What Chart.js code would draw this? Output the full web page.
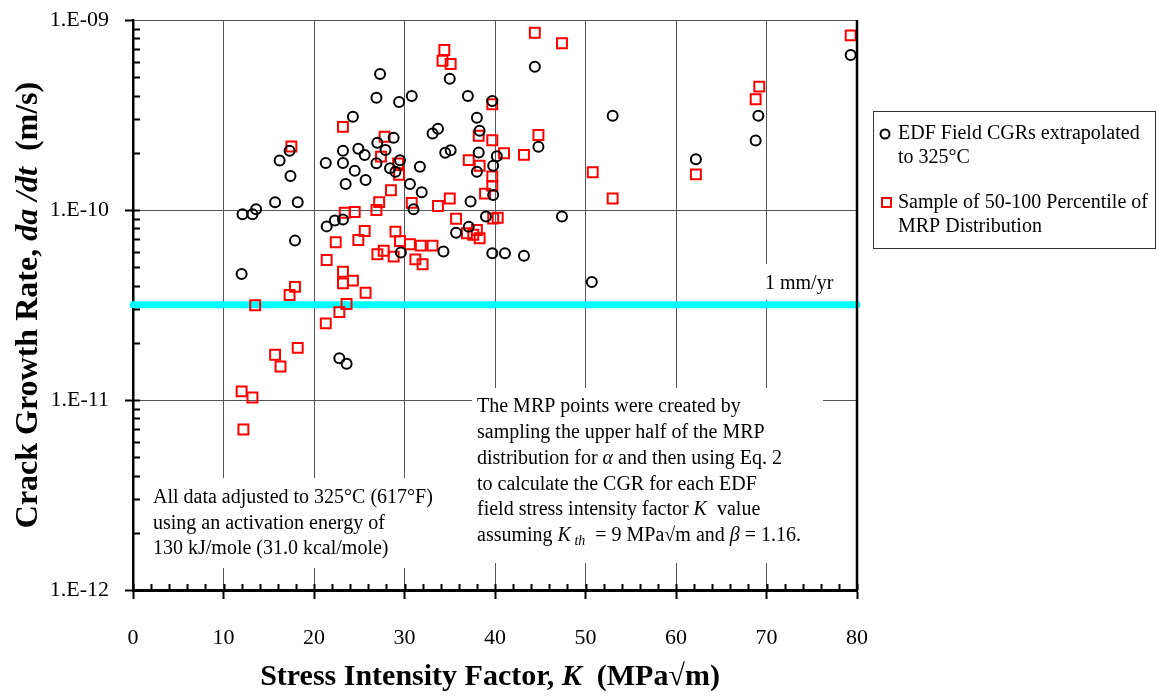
<!DOCTYPE html>
<html>
<head>
<meta charset="utf-8">
<script src="https://cdn.jsdelivr.net/npm/chart.js@4/dist/chart.umd.min.js"></script>
<style>
  html, body { margin: 0; padding: 0; background: #fff; }
  #wrap { width: 1162px; height: 696px; }
</style>
</head>
<body>
<div id="wrap"><canvas id="cgrChart" width="1162" height="696"></canvas></div>
<script>
        // ===============================================
        // 1. Data
        // ===============================================
        // EDF field CGRs extrapolated to 325°C
        const edfK = [27.3, 26.9, 29.4, 24.3, 28.8, 27.0, 23.2, 24.9, 25.6, 17.3,
                      16.2, 21.3, 23.2, 26.9, 27.9, 24.5, 17.4, 25.7, 23.5, 15.7,
                      18.2, 13.6, 13.2, 12.1, 22.3, 21.4, 23.2, 28.4, 29.0, 17.9,
                      12.0, 22.8, 23.6, 29.6, 44.4, 35.0, 30.8, 37.0, 39.7, 38.0,
                      38.3, 33.1, 33.7, 34.5, 35.1, 38.2, 40.2, 44.8, 29.5, 31.7,
                      39.8, 38.0, 30.6, 31.9, 39.8, 37.3, 31.0, 39.0, 47.4, 35.7,
                      37.1, 34.3, 39.7, 41.1, 43.2, 53.0, 62.2, 69.1, 68.8, 79.3,
                      50.7];
        const edfCgr = [5.2e-10, 3.9e-10, 3.7e-10, 3.1e-10, 2.4e-10, 2.26e-10, 2.05e-10, 2.1e-10, 1.95e-10, 2.05e-10,
                        1.82e-10, 1.77e-10, 1.77e-10, 1.76e-10, 2.07e-10, 1.61e-10, 1.51e-10, 1.44e-10, 1.37e-10, 1.1e-10,
                        1.1e-10, 1.01e-10, 9.5e-11, 9.5e-11, 8.8e-11, 8.2e-11, 8.9e-11, 1.66e-10, 1.59e-10, 6.9e-11,
                        4.6e-11, 1.66e-11, 1.55e-11, 5.97e-11, 5.68e-10, 4.91e-10, 3.98e-10, 3.98e-10, 3.75e-10, 3.06e-10,
                        2.61e-10, 2.53e-10, 2.68e-10, 2.0e-10, 2.06e-10, 2.01e-10, 1.92e-10, 2.15e-10, 1.83e-10, 1.69e-10,
                        1.71e-10, 1.59e-10, 1.37e-10, 1.24e-10, 1.2e-10, 1.11e-10, 1.01e-10, 9.25e-11, 9.23e-11, 7.6e-11,
                        8.17e-11, 6.04e-11, 5.92e-11, 5.92e-11, 5.74e-11, 3.13e-10, 1.85e-10, 3.13e-10, 2.32e-10, 6.54e-10,
                        4.18e-11];

        // Sample of 50-100 percentile of MRP distribution
        const mrpK = [23.2, 17.5, 27.8, 27.4, 29.3, 29.4, 28.5, 27.2, 26.9, 23.4,
                      24.5, 22.4, 24.9, 25.6, 29.0, 29.5, 27.0, 27.7, 28.8, 21.4,
                      23.2, 23.2, 24.3, 25.7, 17.9, 17.3, 13.5, 23.6, 22.8, 21.3,
                      18.2, 15.7, 16.3, 12.0, 13.2, 12.2, 44.4, 47.4, 34.4, 34.2,
                      35.1, 39.7, 38.2, 44.8, 39.7, 41.0, 43.2, 37.1, 38.3, 39.7,
                      39.7, 38.9, 35.0, 33.7, 30.8, 35.7, 39.8, 40.3, 36.9, 38.0,
                      37.6, 38.3, 30.6, 31.8, 33.1, 31.2, 32.0, 50.8, 53.0, 62.2,
                      69.2, 68.8, 79.3];
        const mrpCgr = [2.74e-10, 2.16e-10, 2.43e-10, 1.91e-10, 1.76e-10, 1.53e-10, 1.27e-10, 1.1e-10, 1.0e-10, 9.68e-11,
                        9.76e-11, 6.76e-11, 6.95e-11, 7.75e-11, 7.69e-11, 6.87e-11, 5.85e-11, 6.1e-11, 5.68e-11, 5.46e-11,
                        4.73e-11, 4.11e-11, 4.25e-11, 3.67e-11, 3.94e-11, 3.57e-11, 3.15e-11, 3.2e-11, 2.9e-11, 2.53e-11,
                        1.88e-11, 1.73e-11, 1.5e-11, 1.11e-11, 1.03e-11, 7.0e-12, 8.57e-10, 7.54e-10, 6.95e-10, 6.1e-10,
                        5.87e-10, 3.6e-10, 2.46e-10, 2.48e-10, 2.33e-10, 1.99e-10, 1.95e-10, 1.83e-10, 1.71e-10, 1.5e-10,
                        1.34e-10, 1.22e-10, 1.15e-10, 1.05e-10, 1.09e-10, 9.0e-11, 9.02e-11, 9.1e-11, 7.54e-11, 7.85e-11,
                        7.41e-11, 7.1e-11, 6.6e-11, 6.49e-11, 6.49e-11, 5.5e-11, 5.18e-11, 1.58e-10, 1.15e-10, 1.54e-10,
                        4.46e-10, 3.83e-10, 8.3e-10];

        // 1 mm/yr reference line
        const refK = [0, 80];
        const refCgr = [3.17e-11, 3.17e-11];

        // Axis ticks
        const xTickValues = [0, 10, 20, 30, 40, 50, 60, 70, 80];
        const yTickValues = [1e-12, 1e-11, 1e-10, 1e-9];
        const yTickLabels = ['1.E-12', '1.E-11', '1.E-10', '1.E-09'];

        // ===============================================
        // 2. Helpers
        // ===============================================
        const SERIF = "'Liberation Serif', 'Times New Roman', serif";

        // draw a line of text made of pieces with their own fonts
        function drawPieces(c, pieces, x, y, align) {
            let total = 0;
            pieces.forEach(p => { c.font = p.font; total += c.measureText(p.t).width; });
            let cx = align === 'center' ? x - total / 2 : x;
            pieces.forEach(p => {
                c.font = p.font;
                c.fillText(p.t, cx, y + (p.dy || 0));
                cx += c.measureText(p.t).width;
            });
        }

        const note = '20px ' + SERIF;
        const noteI = 'italic 20px ' + SERIF;
        const noteSub = 'italic 14px ' + SERIF;

        // ===============================================
        // 3. Decorations plugin (ticks, notes, legend, titles)
        // ===============================================
        const decorPlugin = {
            id: 'decor',
            beforeDatasetsDraw(chart) {
                const c = chart.ctx;
                c.save();
                c.fillStyle = '#fff';
                c.fillRect(140, 478, 322, 90);
                c.fillRect(472, 388, 351, 175);
                c.fillRect(758, 264, 80, 36);
                c.restore();
            },
            afterDraw(chart) {
                const c = chart.ctx;
                const a = chart.chartArea;
                const xs = chart.scales.x;
                const ys = chart.scales.y;
                c.save();

                // right border
                c.strokeStyle = '#000';
                c.lineWidth = 2.5;
                c.beginPath();
                c.moveTo(a.right, a.top);
                c.lineTo(a.right, a.bottom);
                c.stroke();

                // inward ticks on x axis
                c.lineWidth = 2;
                c.beginPath();
                for (let v = 0; v <= 80; v += 2) {
                    const px = Math.round(xs.getPixelForValue(v)) + 0.5;
                    c.moveTo(px, a.bottom);
                    c.lineTo(px, a.bottom - 6);
                }
                // inward ticks on log y axis
                for (let d = -12; d < -9; d++) {
                    for (let m = 1; m <= 9; m++) {
                        const py = Math.round(ys.getPixelForValue(m * Math.pow(10, d))) + 0.5;
                        c.moveTo(a.left, py);
                        c.lineTo(a.left + 7, py);
                    }
                }
                c.stroke();

                // notes
                c.fillStyle = '#000';
                c.textBaseline = 'middle';
                c.textAlign = 'left';
                drawPieces(c, [{ t: '1 mm/yr', font: note }], 765, 284);

                const leftNote = ['All data adjusted to 325°C (617°F)',
                                  'using an activation energy of',
                                  '130 kJ/mole (31.0 kcal/mole)'];
                leftNote.forEach((t, i) => drawPieces(c, [{ t: t, font: note }], 153, 498 + i * 25.5));

                const rx = 477, ry = 407, rl = 25.8;
                drawPieces(c, [{ t: 'The MRP points were created by', font: note }], rx, ry);
                drawPieces(c, [{ t: 'sampling the upper half of the MRP', font: note }], rx, ry + rl);
                drawPieces(c, [{ t: 'distribution for ', font: note }, { t: 'α', font: noteI },
                               { t: ' and then using Eq. 2', font: note }], rx, ry + rl * 2);
                drawPieces(c, [{ t: 'to calculate the CGR for each EDF', font: note }], rx, ry + rl * 3);
                drawPieces(c, [{ t: 'field stress intensity factor ', font: note }, { t: 'K', font: noteI },
                               { t: '  value', font: note }], rx, ry + rl * 4);
                drawPieces(c, [{ t: 'assuming ', font: note }, { t: 'K', font: noteI },
                               { t: ' th', font: noteSub, dy: 5 }, { t: '  = 9 MPa√m and ', font: note },
                               { t: 'β', font: noteI }, { t: ' = 1.16.', font: note }], rx, ry + rl * 5);

                // legend
                c.strokeStyle = '#333';
                c.lineWidth = 1;
                c.strokeRect(873.5, 111.5, 282, 137);
                c.lineWidth = 2;
                c.strokeStyle = '#000';
                c.beginPath();
                c.arc(885, 134, 4.5, 0, Math.PI * 2);
                c.stroke();
                c.strokeStyle = '#f00';
                c.strokeRect(882, 198, 9, 9);
                drawPieces(c, [{ t: 'EDF Field CGRs extrapolated', font: note }], 898, 134);
                drawPieces(c, [{ t: 'to 325°C', font: note }], 898, 158);
                drawPieces(c, [{ t: 'Sample of 50-100 Percentile of', font: note }], 898, 203);
                drawPieces(c, [{ t: 'MRP Distribution', font: note }], 898, 227);

                // axis titles
                const tb = 'bold 30px ' + SERIF;
                const tbi = 'bold italic 30px ' + SERIF;
                drawPieces(c, [{ t: 'Stress Intensity Factor, ', font: tb }, { t: 'K', font: tbi },
                               { t: '  (MPa√m)', font: tb }], 490, 677, 'center');
                const yb = 'bold 32px ' + SERIF;
                const ybi = 'bold italic 32px ' + SERIF;
                c.translate(29, 305);
                c.rotate(-Math.PI / 2);
                drawPieces(c, [{ t: 'Crack Growth Rate, ', font: yb }, { t: 'da /dt', font: ybi },
                               { t: '  (m/s)', font: yb }], 0, 0, 'center');
                c.restore();
            }
        };

        // ===============================================
        // 4. Chart.js Setup
        // ===============================================
        const ctx = document.getElementById('cgrChart').getContext('2d');
        Chart.defaults.font.family = SERIF;
        Chart.defaults.color = '#000';

        const cgrChart = new Chart(ctx, {
            type: 'scatter',
            data: {
                datasets: [
                    {
                        label: 'EDF Field CGRs extrapolated to 325°C',
                        data: edfK.map((k, i) => ({ x: k, y: edfCgr[i] })),
                        pointStyle: 'circle',
                        pointRadius: 5,
                        pointBorderWidth: 2,
                        borderColor: '#000',
                        backgroundColor: 'rgba(0,0,0,0)'
                    },
                    {
                        label: 'Sample of 50-100 Percentile of MRP Distribution',
                        data: mrpK.map((k, i) => ({ x: k, y: mrpCgr[i] })),
                        pointStyle: 'rect',
                        pointRadius: 7,
                        pointBorderWidth: 2,
                        borderColor: '#ff0000',
                        backgroundColor: 'rgba(0,0,0,0)'
                    },
                    {
                        type: 'line',
                        label: '1 mm/yr',
                        data: refK.map((k, i) => ({ x: k, y: refCgr[i] })),
                        borderColor: '#00ffff',
                        borderWidth: 7,
                        borderCapStyle: 'round',
                        pointRadius: 0,
                        clip: 8
                    }
                ]
            },
            options: {
                responsive: false,
                animation: false,
                devicePixelRatio: 1,
                layout: { padding: { left: 0, right: 305, top: 20, bottom: 0 } },
                plugins: {
                    legend: { display: false },
                    tooltip: { enabled: false }
                },
                scales: {
                    x: {
                        type: 'linear',
                        min: 0,
                        max: 80,
                        afterBuildTicks: s => { s.ticks = xTickValues.map(v => ({ value: v })); },
                        afterFit: s => { s.height = 106; },
                        ticks: {
                            font: { size: 22 },
                            color: '#000',
                            padding: 26,
                            maxRotation: 0
                        },
                        grid: {
                            color: c => (c.tick && c.tick.value === 80 ? '#000' : '#555'),
                            lineWidth: 1,
                            tickColor: '#000',
                            tickWidth: 2,
                            tickLength: 9
                        },
                        border: { color: '#000', width: 3 }
                    },
                    y: {
                        type: 'logarithmic',
                        min: 1e-12,
                        max: 1e-9,
                        afterBuildTicks: s => { s.ticks = yTickValues.map(v => ({ value: v })); },
                        afterFit: s => { s.width = 133; s.paddingTop = 0; s.paddingBottom = 0; },
                        ticks: {
                            font: { size: 22 },
                            color: '#000',
                            padding: 16,
                            callback: v => yTickLabels[yTickValues.findIndex(t => Math.abs(Math.log10(t) - Math.log10(v)) < 0.01)]
                        },
                        grid: {
                            color: '#555',
                            lineWidth: 1,
                            tickColor: '#000',
                            tickWidth: 2,
                            tickLength: 8
                        },
                        border: { color: '#000', width: 2.5 }
                    }
                }
            },
            plugins: [decorPlugin]
        });
</script>
</body>
</html>
